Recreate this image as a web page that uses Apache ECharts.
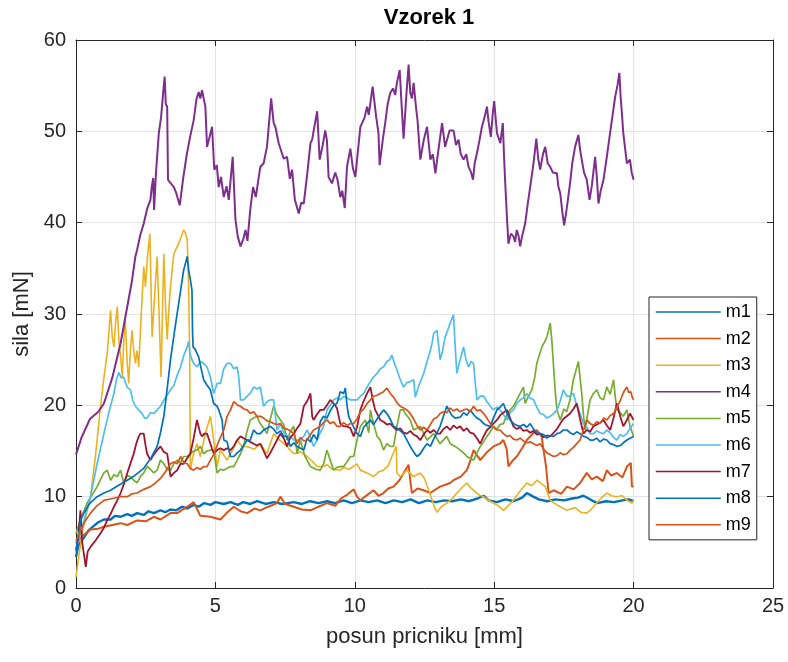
<!DOCTYPE html>
<html>
<head>
<meta charset="utf-8">
<script src="https://cdn.jsdelivr.net/npm/echarts@6/dist/echarts.min.js"></script>
<style>html,body{margin:0;padding:0;background:#fff;}#c{width:788px;height:662px;}</style>
</head>
<body>
<div id="c"></div>
<script>
const seriesNames = ['m1','m2','m3','m4','m5','m6','m7','m8','m9'];
const xTicks = [0,5,10,15,20,25];
const yTicks = [0,10,20,30,40,50,60];

const m1 = [[0,3.4],[0.08,4.6],[0.16,5.0],[0.3,5.6],[0.45,6.3],[0.64,6.8],[0.8,7.2],[1.0,7.5],[1.24,7.5],[1.4,7.9],[1.6,7.8],[1.84,8.1],[2.0,7.9],[2.19,8.2],[2.43,8.0],[2.6,8.4],[2.79,8.2],[3.03,8.5],[3.2,8.3],[3.39,8.6],[3.6,8.5],[3.8,8.9],[3.99,8.7],[4.22,9.1],[4.4,8.9],[4.6,9.3],[4.82,9.1],[5.0,9.4],[5.3,9.2],[5.54,9.4],[5.8,9.1],[6.0,9.4],[6.25,9.2],[6.5,9.5],[6.8,9.2],[7.1,9.4],[7.4,9.2],[7.81,9.4],[8.1,9.2],[8.4,9.5],[8.7,9.3],[9.0,9.5],[9.3,9.3],[9.6,9.6],[9.9,9.3],[10.2,9.6],[10.5,9.4],[10.8,9.6],[11.1,9.3],[11.4,9.6],[11.7,9.4],[12.0,9.7],[12.3,9.3],[12.6,9.6],[12.9,9.4],[13.2,9.6],[13.5,9.5],[13.8,9.7],[14.1,9.5],[14.4,9.8],[14.62,10.1],[14.8,9.6],[15.1,9.4],[15.4,9.7],[15.7,9.5],[16.0,9.9],[16.17,10.4],[16.4,10.0],[16.6,9.7],[16.9,9.5],[17.2,9.7],[17.5,9.6],[17.8,9.8],[18.0,9.9],[18.2,10.1],[18.5,9.6],[18.7,9.3],[19.0,9.5],[19.3,9.4],[19.6,9.6],[19.82,9.7],[20.0,9.5]];

const m2 = [[0,4.9],[0.2,5.6],[0.52,6.4],[0.8,6.5],[1.0,6.7],[1.3,6.9],[1.6,7.1],[1.84,6.9],[2.19,7.4],[2.5,7.3],[2.79,7.8],[3.03,7.5],[3.39,8.2],[3.63,8.2],[3.99,8.9],[4.22,9.4],[4.35,8.6],[4.46,7.9],[4.82,7.8],[5.18,7.5],[5.4,8.2],[5.66,8.9],[5.9,8.4],[6.14,8.2],[6.4,8.7],[6.61,8.5],[6.9,8.9],[7.21,9.3],[7.33,10.0],[7.5,9.2],[7.81,8.9],[8.1,8.6],[8.41,8.5],[8.7,8.9],[9.0,9.3],[9.3,9.0],[9.5,9.8],[9.72,10.2],[9.96,10.8],[10.08,10.0],[10.2,9.6],[10.45,10.2],[10.67,10.7],[10.85,10.1],[11.03,10.4],[11.2,10.9],[11.39,11.1],[11.6,11.8],[11.75,12.6],[11.93,13.5],[12.0,11.5],[12.05,10.4],[12.25,10.9],[12.47,10.7],[12.7,10.4],[13.06,11.1],[13.42,11.5],[13.54,11.8],[13.8,12.2],[14.02,12.9],[14.15,14.0],[14.26,15.1],[14.5,14.0],[14.75,14.9],[14.97,15.5],[15.2,15.8],[15.33,16.2],[15.45,15.2],[15.51,13.3],[15.65,13.9],[15.81,14.4],[16.0,15.3],[16.17,16.2],[16.35,16.8],[16.53,17.3],[16.7,16.6],[16.77,15.1],[16.86,13.3],[16.95,10.4],[17.13,10.7],[17.4,10.3],[17.61,11.1],[17.85,10.8],[18.08,11.5],[18.32,12.6],[18.5,11.9],[18.68,12.2],[18.9,11.7],[19.04,12.9],[19.2,12.3],[19.4,12.6],[19.6,12.1],[19.76,13.3],[19.9,13.7],[19.94,11.1],[20.0,11.1]];

const m3 = [[0,1.2],[0.1,3.5],[0.25,6.5],[0.52,10.0],[0.7,14.5],[0.88,19.9],[1.0,23.0],[1.12,25.7],[1.24,30.4],[1.3,27.5],[1.36,26.4],[1.42,29.0],[1.48,30.8],[1.54,27.0],[1.6,25.3],[1.66,23.1],[1.72,27.5],[1.77,29.3],[1.83,25.0],[1.89,22.4],[1.95,26.0],[2.01,28.2],[2.07,26.0],[2.13,24.6],[2.19,26.0],[2.25,24.2],[2.34,30.0],[2.43,35.2],[2.49,33.0],[2.57,36.5],[2.65,38.8],[2.69,33.0],[2.73,27.5],[2.82,32.0],[2.91,36.3],[2.98,30.0],[3.05,23.1],[3.1,30.0],[3.15,36.6],[3.21,31.0],[3.27,27.2],[3.33,30.5],[3.39,33.0],[3.51,36.6],[3.68,37.7],[3.86,39.2],[3.92,38.9],[3.99,38.1],[4.04,33.0],[4.08,25.0],[4.1,12.9],[4.2,14.5],[4.34,15.8],[4.46,14.4],[4.64,16.9],[4.82,18.8],[4.88,18.6],[4.94,16.2],[5.06,13.3],[5.18,15.1],[5.42,14.0],[5.6,15.0],[5.78,16.2],[5.95,15.5],[6.14,15.5],[6.4,15.2],[6.61,15.8],[6.85,14.7],[7.09,16.9],[7.3,16.2],[7.57,15.5],[7.81,14.7],[8.05,14.9],[8.29,14.4],[8.5,13.8],[8.65,13.3],[8.88,13.3],[9.0,13.5],[9.2,13.0],[9.48,12.9],[9.6,13.2],[9.8,13.0],[10.08,13.6],[10.2,12.9],[10.44,12.6],[10.67,12.2],[10.85,12.7],[11.03,12.9],[11.2,13.4],[11.33,14.4],[11.49,15.5],[11.51,12.6],[11.63,12.2],[11.87,12.9],[12.1,12.2],[12.35,12.6],[12.5,12.0],[12.71,10.2],[12.85,8.9],[12.95,8.3],[13.1,8.9],[13.3,9.3],[13.5,9.8],[13.66,10.4],[13.85,11.0],[14.02,11.5],[14.15,11.0],[14.26,10.7],[14.45,10.2],[14.62,10.0],[14.8,9.6],[14.97,9.3],[15.15,9.0],[15.33,8.5],[15.5,9.0],[15.69,9.6],[15.9,10.5],[16.17,11.5],[16.35,11.2],[16.53,11.8],[16.7,11.4],[16.83,11.1],[17.01,9.6],[17.3,9.0],[17.61,8.5],[17.9,8.8],[18.1,8.3],[18.32,8.2],[18.5,8.7],[18.68,9.3],[18.85,9.9],[19.04,10.4],[19.2,10.1],[19.4,10.0],[19.6,10.1],[19.76,9.6],[19.94,9.3],[20.0,9.6]];

const m4 = [[0,14.6],[0.2,16.5],[0.5,18.5],[0.8,19.3],[1.0,20.2],[1.3,23.0],[1.6,26.8],[1.88,31.5],[2.0,33.5],[2.13,36.3],[2.19,37.0],[2.3,38.6],[2.43,39.9],[2.55,41.5],[2.67,42.5],[2.72,44.0],[2.77,44.9],[2.8,41.4],[2.87,45.5],[2.97,49.8],[3.05,51.5],[3.12,54.0],[3.18,56.0],[3.22,53.0],[3.27,52.7],[3.3,44.7],[3.4,44.3],[3.51,43.9],[3.6,43.2],[3.72,41.9],[3.85,45.0],[3.98,47.6],[4.1,49.5],[4.22,51.2],[4.32,53.5],[4.4,54.3],[4.46,53.6],[4.52,54.5],[4.64,52.7],[4.7,48.3],[4.8,49.5],[4.88,50.5],[4.96,45.8],[5.05,46.3],[5.12,43.9],[5.2,45.0],[5.3,42.8],[5.4,44.0],[5.48,42.5],[5.62,47.2],[5.72,40.3],[5.8,38.5],[5.9,37.4],[6.0,38.2],[6.08,39.2],[6.15,38.0],[6.25,41.4],[6.35,43.9],[6.45,42.8],[6.61,46.1],[6.73,46.5],[6.85,48.3],[7.0,53.6],[7.09,50.9],[7.15,50.5],[7.27,48.7],[7.33,48.7],[7.45,47.0],[7.57,47.2],[7.67,44.8],[7.75,45.8],[7.85,42.5],[7.99,41.0],[8.08,42.2],[8.17,42.1],[8.3,45.5],[8.41,48.7],[8.47,49.1],[8.55,50.5],[8.65,52.2],[8.74,46.9],[8.85,48.5],[8.94,50.1],[9.0,49.0],[9.06,45.0],[9.18,44.3],[9.3,45.5],[9.38,44.7],[9.48,42.8],[9.55,43.5],[9.64,41.6],[9.72,46.1],[9.84,48.1],[9.93,46.0],[10.02,45.0],[10.1,47.5],[10.2,50.5],[10.26,50.9],[10.35,51.5],[10.44,52.7],[10.5,51.8],[10.56,51.6],[10.64,54.9],[10.67,55.1],[10.77,51.5],[10.85,49.8],[10.89,46.3],[11.0,49.0],[11.09,50.9],[11.18,53.0],[11.27,54.2],[11.37,54.7],[11.45,54.0],[11.51,55.3],[11.61,56.7],[11.63,56.5],[11.69,52.3],[11.75,49.2],[11.85,54.0],[11.93,57.3],[11.99,54.2],[12.05,53.6],[12.11,55.3],[12.2,52.5],[12.25,51.2],[12.35,46.9],[12.47,49.0],[12.59,50.5],[12.71,46.9],[12.8,47.5],[12.89,45.4],[13.0,48.0],[13.13,50.9],[13.24,48.3],[13.3,48.1],[13.4,50.1],[13.54,50.1],[13.63,48.5],[13.72,49.1],[13.8,47.5],[13.9,46.9],[14.0,47.5],[14.08,46.1],[14.17,45.5],[14.24,44.7],[14.3,46.5],[14.38,47.6],[14.47,49.0],[14.56,50.5],[14.65,51.5],[14.74,52.7],[14.8,51.0],[14.88,49.4],[14.95,52.0],[15.0,53.3],[15.05,51.5],[15.1,49.8],[15.22,48.7],[15.31,50.9],[15.35,47.5],[15.39,44.7],[15.45,41.0],[15.51,37.7],[15.6,38.8],[15.69,38.5],[15.75,37.9],[15.81,39.2],[15.87,38.6],[15.93,37.4],[16.0,38.5],[16.11,39.9],[16.2,42.0],[16.29,43.9],[16.41,46.5],[16.51,49.2],[16.58,47.0],[16.65,45.8],[16.75,47.5],[16.83,48.3],[16.92,46.5],[17.01,46.1],[17.1,45.5],[17.25,45.4],[17.3,44.0],[17.37,43.2],[17.45,41.0],[17.51,39.7],[17.6,41.5],[17.72,44.3],[17.8,46.5],[17.9,48.3],[18.02,49.6],[18.08,48.0],[18.14,46.9],[18.22,45.5],[18.32,44.7],[18.42,42.5],[18.5,44.0],[18.62,47.2],[18.68,45.0],[18.74,42.1],[18.82,43.5],[18.92,44.7],[19.04,47.2],[19.12,49.0],[19.22,51.2],[19.34,53.8],[19.42,55.0],[19.49,56.4],[19.53,54.0],[19.58,52.0],[19.63,49.8],[19.7,48.0],[19.76,46.5],[19.87,46.9],[19.93,45.5],[20.0,44.7]];

const m5 = [[0,6.0],[0.2,7.8],[0.4,9.3],[0.6,10.3],[0.76,11.1],[0.9,12.0],[1.0,12.6],[1.12,12.9],[1.24,11.8],[1.36,12.4],[1.48,12.2],[1.6,12.9],[1.71,11.5],[1.83,12.3],[1.95,12.2],[2.07,11.8],[2.19,11.5],[2.31,12.2],[2.43,12.6],[2.55,13.3],[2.67,13.0],[2.79,12.6],[2.91,12.9],[3.03,14.0],[3.15,13.6],[3.27,13.0],[3.39,12.9],[3.51,13.6],[3.63,14.0],[3.75,13.7],[3.86,14.4],[3.99,14.4],[4.1,14.7],[4.22,15.0],[4.34,15.1],[4.46,15.5],[4.58,14.7],[4.7,15.0],[4.82,15.1],[4.94,15.1],[5.0,13.8],[5.06,12.6],[5.18,13.0],[5.3,12.9],[5.42,13.1],[5.54,13.3],[5.66,13.3],[5.78,14.0],[5.9,14.7],[6.01,15.5],[6.12,17.0],[6.25,18.4],[6.37,18.6],[6.49,18.8],[6.61,18.0],[6.73,17.5],[6.85,16.9],[6.97,18.5],[7.09,19.9],[7.2,19.0],[7.33,18.4],[7.45,17.9],[7.57,16.2],[7.7,17.2],[7.81,17.7],[7.93,14.7],[8.05,16.2],[8.2,14.5],[8.41,13.3],[8.6,13.0],[8.76,12.9],[8.88,13.6],[9.0,15.1],[9.12,14.0],[9.24,12.9],[9.36,13.2],[9.48,13.3],[9.6,13.3],[9.72,13.8],[9.84,14.4],[9.96,14.4],[10.08,16.2],[10.2,17.7],[10.38,18.4],[10.5,17.0],[10.56,19.5],[10.67,18.0],[10.8,16.6],[10.91,16.2],[11.03,15.1],[11.15,15.8],[11.27,15.5],[11.39,15.5],[11.45,16.6],[11.51,17.7],[11.63,19.5],[11.75,19.5],[11.81,19.1],[11.99,18.4],[12.11,17.3],[12.35,17.7],[12.59,16.2],[12.83,16.9],[13.06,15.8],[13.3,16.6],[13.42,15.8],[13.6,15.5],[13.78,15.1],[13.9,14.8],[14.02,14.4],[14.14,14.2],[14.26,14.0],[14.38,14.8],[14.5,15.5],[14.62,16.0],[14.74,16.6],[14.86,17.1],[14.97,17.7],[15.1,17.4],[15.21,17.9],[15.33,18.0],[15.45,18.9],[15.57,19.5],[15.69,19.9],[15.81,20.6],[15.93,21.3],[16.05,22.0],[16.11,20.2],[16.23,21.0],[16.35,21.7],[16.45,23.0],[16.53,24.6],[16.62,25.5],[16.71,26.4],[16.8,26.9],[16.89,27.5],[16.95,28.2],[17.01,29.0],[17.07,27.0],[17.13,24.2],[17.19,21.5],[17.25,19.5],[17.37,18.4],[17.5,19.6],[17.6,19.3],[17.72,20.6],[17.84,22.8],[17.93,23.8],[18.02,24.8],[18.08,23.0],[18.14,21.3],[18.2,19.0],[18.26,17.3],[18.35,19.0],[18.44,20.6],[18.56,21.3],[18.68,21.7],[18.8,20.8],[18.92,20.6],[19.04,22.0],[19.16,21.2],[19.28,22.8],[19.34,21.0],[19.4,19.5],[19.52,19.2],[19.63,18.8],[19.76,19.5],[19.87,17.7],[20.0,16.6]];

const m6 = [[0,5.0],[0.1,5.3],[0.3,7.5],[0.52,10.0],[0.75,13.5],[1.0,16.9],[1.2,19.5],[1.36,21.3],[1.45,22.8],[1.53,23.6],[1.62,23.0],[1.71,23.1],[1.83,22.0],[1.95,21.7],[2.04,20.5],[2.13,19.9],[2.25,19.5],[2.37,19.1],[2.46,18.6],[2.55,18.6],[2.67,19.2],[2.79,19.1],[2.91,19.5],[3.03,19.9],[3.2,20.8],[3.39,21.7],[3.51,22.2],[3.63,23.3],[3.75,24.2],[3.87,25.5],[3.99,26.4],[4.04,27.0],[4.1,25.5],[4.16,25.0],[4.22,24.6],[4.34,24.2],[4.46,24.8],[4.58,24.6],[4.7,24.2],[4.82,23.1],[4.94,21.3],[5.06,22.4],[5.18,22.4],[5.3,24.0],[5.42,24.6],[5.54,24.6],[5.66,24.0],[5.78,24.2],[5.84,23.0],[5.9,20.6],[6.01,20.6],[6.14,21.0],[6.25,21.3],[6.37,22.0],[6.49,21.8],[6.61,22.0],[6.73,19.9],[6.85,20.4],[6.97,20.6],[7.09,20.6],[7.21,17.3],[7.33,18.0],[7.45,17.0],[7.57,16.6],[7.69,16.6],[7.81,16.2],[7.93,16.2],[8.05,16.2],[8.17,16.6],[8.29,17.3],[8.41,16.5],[8.52,15.5],[8.65,16.2],[8.76,17.0],[8.88,17.7],[9.0,19.5],[9.12,20.0],[9.24,20.6],[9.36,20.8],[9.48,20.6],[9.6,21.0],[9.72,20.8],[9.84,20.6],[9.96,20.6],[10.08,20.6],[10.2,21.0],[10.32,21.3],[10.44,22.0],[10.56,22.6],[10.67,23.1],[10.8,23.5],[10.91,24.0],[11.03,24.2],[11.15,24.8],[11.25,25.0],[11.33,25.5],[11.42,24.6],[11.51,23.9],[11.63,22.8],[11.75,22.0],[11.87,22.5],[11.99,22.6],[12.11,22.8],[12.17,20.9],[12.3,22.2],[12.47,23.5],[12.59,24.8],[12.71,26.0],[12.77,26.8],[12.83,27.9],[12.95,28.2],[13.06,25.0],[13.15,26.0],[13.24,27.5],[13.33,28.2],[13.42,29.0],[13.54,29.9],[13.6,26.5],[13.66,23.5],[13.78,25.0],[13.9,26.4],[13.99,25.0],[14.08,24.2],[14.17,24.8],[14.26,24.6],[14.32,22.5],[14.38,20.6],[14.5,21.0],[14.62,21.0],[14.74,20.4],[14.86,19.9],[14.97,19.5],[15.1,19.8],[15.21,19.5],[15.33,19.0],[15.46,18.4],[15.57,19.2],[15.69,19.5],[15.81,20.2],[15.93,20.6],[16.05,20.8],[16.17,21.3],[16.29,20.8],[16.41,20.6],[16.53,19.8],[16.65,19.1],[16.77,19.0],[16.89,18.6],[17.01,18.8],[17.13,19.1],[17.25,19.5],[17.37,20.5],[17.48,21.7],[17.6,21.0],[17.72,21.0],[17.84,21.3],[17.96,20.0],[18.08,19.1],[18.2,18.0],[18.32,17.6],[18.44,16.9],[18.56,16.9],[18.68,17.2],[18.8,17.0],[18.92,16.9],[19.04,17.3],[19.16,17.0],[19.28,16.5],[19.4,16.2],[19.52,16.8],[19.63,16.6],[19.76,16.9],[19.87,17.5],[20.0,18.0]];

const m7 = [[0,4.2],[0.08,5.5],[0.16,8.5],[0.22,5.0],[0.28,3.8],[0.35,2.3],[0.42,4.0],[0.52,4.5],[0.7,5.2],[0.88,6.0],[1.0,6.6],[1.12,7.4],[1.24,8.1],[1.36,8.9],[1.48,9.6],[1.6,10.4],[1.72,11.4],[1.84,12.6],[1.96,13.7],[2.07,14.7],[2.16,15.8],[2.25,16.6],[2.31,16.9],[2.43,16.9],[2.5,15.5],[2.55,14.7],[2.67,14.0],[2.79,14.6],[2.91,15.1],[3.03,15.5],[3.15,14.9],[3.27,14.7],[3.33,13.5],[3.39,12.2],[3.51,12.6],[3.63,12.9],[3.75,13.6],[3.86,13.6],[3.99,14.2],[4.1,14.7],[4.22,16.4],[4.28,16.2],[4.34,18.4],[4.4,18.6],[4.46,16.9],[4.52,16.6],[4.6,16.9],[4.7,16.9],[4.82,15.8],[4.94,14.7],[5.06,15.1],[5.18,15.3],[5.3,15.1],[5.42,15.3],[5.54,15.1],[5.66,15.5],[5.78,16.2],[5.9,16.6],[6.01,16.4],[6.14,16.2],[6.25,16.0],[6.37,15.8],[6.49,15.6],[6.61,15.8],[6.73,15.0],[6.85,14.2],[6.97,14.8],[7.09,15.5],[7.21,16.2],[7.33,16.9],[7.45,16.4],[7.57,15.5],[7.69,16.5],[7.81,16.9],[7.93,17.5],[8.05,18.0],[8.17,19.9],[8.3,20.5],[8.41,21.3],[8.47,18.8],[8.52,18.4],[8.64,19.0],[8.76,19.5],[8.88,19.5],[9.0,20.0],[9.12,20.6],[9.24,20.2],[9.36,19.7],[9.48,18.0],[9.6,17.7],[9.72,17.7],[9.84,17.5],[9.96,16.6],[10.08,17.6],[10.2,19.5],[10.32,20.5],[10.44,21.3],[10.56,22.0],[10.65,20.5],[10.73,19.5],[10.8,19.1],[10.91,18.4],[11.03,18.2],[11.15,17.9],[11.27,18.0],[11.39,17.6],[11.51,17.3],[11.63,17.5],[11.75,17.0],[11.87,16.9],[11.99,17.2],[12.11,16.8],[12.23,16.6],[12.35,16.2],[12.47,16.8],[12.59,17.3],[12.71,17.0],[12.83,17.3],[12.95,16.9],[13.06,16.9],[13.18,17.4],[13.3,17.7],[13.42,17.3],[13.54,17.8],[13.66,17.5],[13.78,17.7],[13.9,17.2],[14.02,17.5],[14.14,17.0],[14.26,16.9],[14.38,16.4],[14.5,15.8],[14.62,16.6],[14.74,17.3],[14.86,17.6],[14.97,18.0],[15.1,18.4],[15.21,18.9],[15.33,19.2],[15.46,19.5],[15.57,18.6],[15.69,17.7],[15.81,17.4],[15.93,17.6],[16.05,17.2],[16.17,17.3],[16.29,17.0],[16.41,17.2],[16.53,16.8],[16.65,16.9],[16.77,16.5],[16.89,16.7],[17.01,16.6],[17.13,17.0],[17.25,17.4],[17.37,18.0],[17.48,18.5],[17.6,18.8],[17.72,19.1],[17.84,19.6],[17.96,20.2],[18.08,18.5],[18.2,16.9],[18.32,17.3],[18.44,17.1],[18.56,17.7],[18.68,17.9],[18.8,18.1],[18.92,18.4],[19.04,17.8],[19.16,17.3],[19.28,18.6],[19.4,20.2],[19.52,18.8],[19.63,17.7],[19.76,18.4],[19.87,19.1],[20.0,18.4]];

const m8 = [[0,4.0],[0.08,5.5],[0.16,7.4],[0.3,8.3],[0.5,9.3],[0.76,10.0],[1.0,10.4],[1.24,10.7],[1.5,11.2],[1.84,11.8],[2.1,12.3],[2.43,13.1],[2.7,14.3],[2.91,15.5],[3.03,17.0],[3.15,18.8],[3.27,21.8],[3.39,25.0],[3.51,27.6],[3.63,30.1],[3.75,32.5],[3.86,34.8],[3.93,35.6],[3.99,36.3],[4.04,34.8],[4.1,33.8],[4.16,32.6],[4.18,28.0],[4.2,26.4],[4.28,26.1],[4.34,25.7],[4.4,25.3],[4.49,24.0],[4.58,22.8],[4.7,22.2],[4.82,21.7],[4.94,20.2],[5.06,19.9],[5.12,19.5],[5.24,18.4],[5.3,16.2],[5.42,16.0],[5.54,14.4],[5.66,14.4],[5.78,14.8],[5.9,15.1],[6.01,15.6],[6.14,16.2],[6.25,16.2],[6.37,17.3],[6.49,16.9],[6.61,16.9],[6.73,17.3],[6.85,17.5],[6.97,17.7],[7.09,17.4],[7.21,16.9],[7.33,17.2],[7.45,16.6],[7.57,16.6],[7.69,15.5],[7.81,15.9],[7.93,15.5],[8.05,15.3],[8.17,15.1],[8.29,16.4],[8.41,16.0],[8.52,16.8],[8.65,16.2],[8.76,18.2],[8.88,18.8],[9.0,18.6],[9.12,19.4],[9.24,20.0],[9.36,20.2],[9.48,21.5],[9.6,21.3],[9.66,21.9],[9.72,20.0],[9.78,18.8],[9.84,18.8],[9.96,17.6],[10.08,16.9],[10.2,16.6],[10.32,17.6],[10.44,18.0],[10.56,18.4],[10.67,17.9],[10.8,18.5],[10.91,19.0],[11.03,19.5],[11.15,19.1],[11.27,18.5],[11.39,17.7],[11.51,17.5],[11.63,17.2],[11.75,16.9],[11.87,16.2],[11.99,15.5],[12.11,14.9],[12.23,14.4],[12.35,14.7],[12.47,15.3],[12.59,15.8],[12.71,15.5],[12.83,16.3],[12.95,17.0],[13.06,17.7],[13.18,18.8],[13.3,19.9],[13.36,19.9],[13.48,18.9],[13.6,18.6],[13.66,18.4],[13.78,18.7],[13.9,19.2],[14.02,18.9],[14.14,19.5],[14.26,19.0],[14.38,18.6],[14.5,18.4],[14.62,18.0],[14.74,17.8],[14.86,17.7],[14.97,18.6],[15.1,19.5],[15.21,19.8],[15.33,20.2],[15.45,19.2],[15.57,18.4],[15.69,18.0],[15.81,17.8],[15.93,17.7],[16.05,17.9],[16.17,17.6],[16.29,18.0],[16.41,17.4],[16.53,17.0],[16.65,16.9],[16.77,16.8],[16.89,16.4],[17.01,16.7],[17.13,16.6],[17.25,16.9],[17.37,17.0],[17.48,17.3],[17.61,17.3],[17.72,17.0],[17.84,16.8],[17.96,17.1],[18.08,16.9],[18.2,16.6],[18.32,16.5],[18.44,16.2],[18.56,16.2],[18.68,16.4],[18.8,16.0],[18.92,16.3],[19.04,16.2],[19.16,15.8],[19.28,15.7],[19.4,15.5],[19.52,15.6],[19.63,15.9],[19.76,16.2],[19.87,16.4],[20.0,16.6]];

const m9 = [[0,5.2],[0.15,6.2],[0.3,7.2],[0.52,8.2],[0.75,9.0],[1.0,9.6],[1.3,9.8],[1.6,10.0],[1.84,10.0],[2.0,10.3],[2.19,10.4],[2.43,10.8],[2.67,11.1],[2.85,11.5],[3.03,12.0],[3.2,12.7],[3.39,13.6],[3.51,13.8],[3.63,13.6],[3.75,14.4],[3.87,13.7],[3.99,13.6],[4.1,13.1],[4.22,12.9],[4.34,13.2],[4.46,13.0],[4.58,13.3],[4.7,13.3],[4.82,14.0],[4.94,14.6],[5.06,15.6],[5.18,16.5],[5.3,17.3],[5.42,18.8],[5.54,19.5],[5.66,20.4],[5.72,20.4],[5.81,20.0],[5.9,19.9],[6.02,19.6],[6.14,19.5],[6.25,19.1],[6.37,19.3],[6.49,18.8],[6.61,18.8],[6.73,18.6],[6.85,18.3],[6.97,18.2],[7.09,18.0],[7.21,17.9],[7.33,18.0],[7.45,17.5],[7.57,17.4],[7.69,17.2],[7.81,16.9],[7.93,15.8],[8.05,16.5],[8.17,16.1],[8.29,16.2],[8.41,16.8],[8.52,17.3],[8.64,17.5],[8.76,17.7],[8.88,18.1],[9.0,18.4],[9.12,18.0],[9.24,18.2],[9.36,17.7],[9.48,17.7],[9.6,18.1],[9.72,17.8],[9.84,18.0],[9.96,18.0],[10.08,18.5],[10.2,19.3],[10.32,19.6],[10.44,20.2],[10.56,20.6],[10.67,21.0],[10.8,21.1],[10.91,21.3],[11.03,21.5],[11.15,21.9],[11.27,21.3],[11.39,20.9],[11.51,20.3],[11.63,19.9],[11.75,19.7],[11.87,19.5],[11.99,19.1],[12.11,18.5],[12.23,17.8],[12.35,17.3],[12.47,17.6],[12.59,17.3],[12.71,17.9],[12.83,18.5],[12.95,18.7],[13.06,19.1],[13.18,19.3],[13.3,19.2],[13.42,19.7],[13.54,19.4],[13.66,19.6],[13.78,19.3],[13.9,19.5],[14.02,19.6],[14.14,19.3],[14.26,19.9],[14.38,19.4],[14.5,19.5],[14.62,19.1],[14.74,18.6],[14.86,18.0],[14.97,17.6],[15.1,17.3],[15.21,17.3],[15.33,16.9],[15.45,16.6],[15.57,16.7],[15.69,16.3],[15.81,16.2],[15.93,16.4],[16.05,16.1],[16.17,15.9],[16.29,16.0],[16.41,15.8],[16.53,15.6],[16.65,15.8],[16.77,15.2],[16.89,14.8],[17.01,14.6],[17.13,14.4],[17.25,14.5],[17.37,14.8],[17.48,14.6],[17.61,14.7],[17.72,15.1],[17.84,15.4],[17.96,15.8],[18.08,16.2],[18.2,17.3],[18.32,18.4],[18.44,18.0],[18.56,17.8],[18.68,18.2],[18.8,18.0],[18.92,18.6],[19.04,18.4],[19.16,18.9],[19.28,19.1],[19.4,19.8],[19.52,20.5],[19.58,21.0],[19.67,21.6],[19.76,22.0],[19.82,21.4],[19.9,21.5],[19.95,20.9],[20.0,20.6]];

const seriesData = [m1,m2,m3,m4,m5,m6,m7,m8,m9];
const colors = ['#0072BD','#D95319','#EDB120','#7E2F8E','#77AC30','#4DBEEE','#A2142F','#0072BD','#D95319'];
const widths = [2.4,2.0,1.6,2.0,1.7,1.7,1.8,1.7,1.7];

const FONT = '"Liberation Sans", Arial, Helvetica, sans-serif';
const AX = '#262626';
const chart = echarts.init(document.getElementById('c'), null, {renderer: 'canvas'});

const xMin = xTicks[0], xMax = xTicks[xTicks.length-1], xInt = xTicks[1]-xTicks[0];
const yMin = yTicks[0], yMax = yTicks[yTicks.length-1], yInt = yTicks[1]-yTicks[0];

const baseAxis = {
  type: 'value',
  axisLine: {show: true, onZero: false, lineStyle: {color: AX, width: 1}},
  axisTick: {show: true, inside: true, length: 6, lineStyle: {color: AX, width: 1}},
  axisLabel: {color: AX, fontSize: 20, fontFamily: FONT},
  splitLine: {show: true, lineStyle: {color: '#e3e3e3', width: 1}}
};

chart.setOption({
  animation: false,
  backgroundColor: '#ffffff',
  color: colors,
  title: {
    text: 'Vzorek 1', left: 424, top: 2, textAlign: 'center',
    textStyle: {fontSize: 22, fontWeight: 'bold', color: '#000', fontFamily: FONT}
  },
  grid: {left: 76, right: 15, top: 40, bottom: 74, containLabel: false},
  legend: {
    orient: 'vertical', left: 649, top: 297,
    data: seriesNames,
    padding: [6, 6, 6, 6],
    itemWidth: 65, itemHeight: 18, itemGap: 8.6,
    itemStyle: {opacity: 0},
    lineStyle: {width: 1.5},
    backgroundColor: '#ffffff', borderColor: AX, borderWidth: 1,
    textStyle: {fontSize: 18, color: '#000', fontFamily: FONT}
  },
  xAxis: [
    Object.assign({}, baseAxis, {
      min: xMin, max: xMax, interval: xInt, position: 'bottom',
      name: 'posun pricniku [mm]', nameLocation: 'middle', nameGap: 38,
      nameTextStyle: {fontSize: 22, color: AX, fontFamily: FONT},
      axisLabel: {color: AX, fontSize: 20, fontFamily: FONT, margin: 8}
    }),
    Object.assign({}, baseAxis, {
      min: xMin, max: xMax, interval: xInt, position: 'top',
      axisLabel: {show: false}, splitLine: {show: false}
    })
  ],
  yAxis: [
    Object.assign({}, baseAxis, {
      min: yMin, max: yMax, interval: yInt, position: 'left',
      name: 'sila [mN]', nameLocation: 'middle', nameGap: 42,
      nameTextStyle: {fontSize: 22, color: AX, fontFamily: FONT},
      axisLabel: {color: AX, fontSize: 20, fontFamily: FONT, margin: 10}
    }),
    Object.assign({}, baseAxis, {
      min: yMin, max: yMax, interval: yInt, position: 'right',
      axisLabel: {show: false}, splitLine: {show: false}
    })
  ],
  series: seriesNames.map((n, i) => ({
    name: n, type: 'line', data: seriesData[i],
    xAxisIndex: 0, yAxisIndex: 0,
    symbol: 'none', showSymbol: false,
    lineStyle: {width: widths[i], color: colors[i]},
    itemStyle: {color: colors[i]},
    z: 2 + i
  }))
});
</script>
</body>
</html>
